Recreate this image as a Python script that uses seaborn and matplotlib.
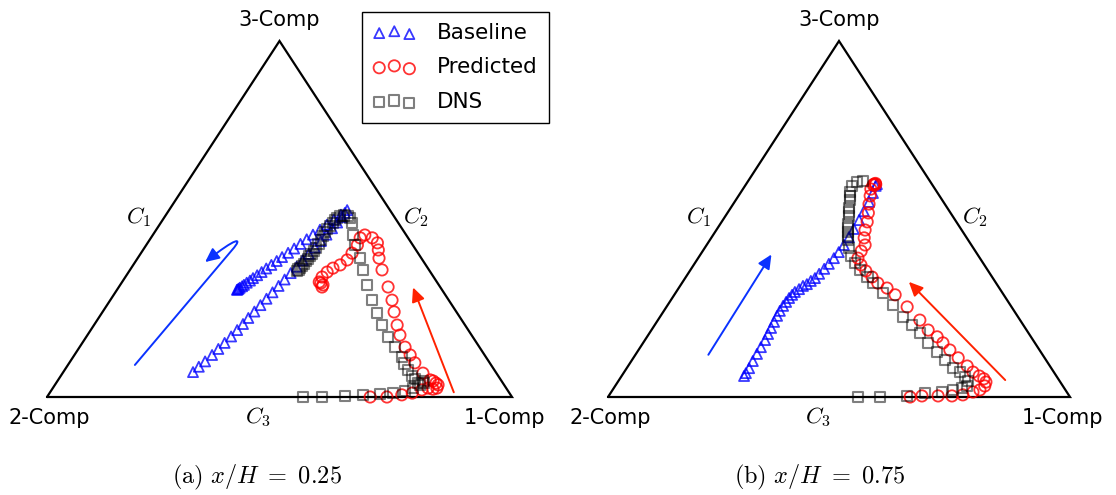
import numpy as np
import pandas as pd
import matplotlib
matplotlib.use("Agg")
import matplotlib.pyplot as plt
import seaborn as sns
from matplotlib.path import Path
from matplotlib.patches import FancyArrowPatch

# ---------------- data: compositions (fraction of 1-Comp, fraction of 3-Comp) ----------------
# panel (a) x/H = 0.25
base_a_c1 = [0.279, 0.284, 0.290, 0.296, 0.301, 0.306, 0.311, 0.315, 0.319, 0.322, 0.326, 0.330, 0.334, 0.338,
             0.342, 0.346, 0.350, 0.354, 0.358, 0.362, 0.366, 0.370, 0.373, 0.376, 0.379, 0.381, 0.382, 0.383,
             0.376, 0.368, 0.360, 0.352, 0.344, 0.337, 0.330, 0.323, 0.316, 0.309, 0.303, 0.297, 0.291, 0.286,
             0.281, 0.276, 0.273, 0.269, 0.266, 0.264, 0.261, 0.260, 0.259, 0.258]
base_a_c3 = [0.070, 0.085, 0.100, 0.118, 0.135, 0.152, 0.170, 0.188, 0.205, 0.222, 0.240, 0.258, 0.276, 0.294,
             0.312, 0.330, 0.348, 0.366, 0.384, 0.402, 0.420, 0.438, 0.456, 0.474, 0.490, 0.505, 0.517, 0.525,
             0.512, 0.498, 0.484, 0.470, 0.456, 0.443, 0.430, 0.417, 0.405, 0.393, 0.382, 0.371, 0.361, 0.351,
             0.342, 0.334, 0.327, 0.321, 0.315, 0.311, 0.307, 0.304, 0.302, 0.301]

pred_a_c1 = [0.695, 0.731, 0.760, 0.780, 0.796, 0.807, 0.819, 0.826, 0.824, 0.817, 0.808, 0.800, 0.775, 0.743,
             0.722, 0.700, 0.672, 0.652, 0.627, 0.606, 0.579, 0.542, 0.519, 0.506, 0.494, 0.476, 0.456, 0.450,
             0.454, 0.454, 0.453, 0.445, 0.434, 0.427, 0.423, 0.424, 0.437, 0.436, 0.429]
pred_a_c3 = [0.000, 0.000, 0.006, 0.011, 0.020, 0.025, 0.022, 0.025, 0.034, 0.039, 0.045, 0.048, 0.067, 0.096,
             0.118, 0.140, 0.174, 0.202, 0.239, 0.272, 0.309, 0.357, 0.390, 0.413, 0.433, 0.447, 0.455, 0.447,
             0.427, 0.404, 0.385, 0.371, 0.362, 0.351, 0.337, 0.323, 0.309, 0.315, 0.320]

dns_a_c1 = [0.551, 0.591, 0.639, 0.677, 0.712, 0.739, 0.761, 0.775, 0.785, 0.790, 0.785, 0.778, 0.766, 0.755,
            0.738, 0.722, 0.707, 0.678, 0.649, 0.619, 0.592, 0.563, 0.531, 0.501, 0.478, 0.449, 0.431, 0.412,
            0.400, 0.393, 0.384, 0.376, 0.373, 0.371, 0.370, 0.369, 0.367, 0.366, 0.367, 0.368, 0.369, 0.369,
            0.369, 0.368, 0.367, 0.367, 0.366, 0.366, 0.364, 0.363, 0.362, 0.361]
dns_a_c3 = [0.000, 0.000, 0.003, 0.006, 0.008, 0.011, 0.017, 0.025, 0.034, 0.040, 0.046, 0.039, 0.050, 0.059,
            0.076, 0.094, 0.112, 0.140, 0.169, 0.202, 0.236, 0.272, 0.315, 0.357, 0.390, 0.427, 0.455, 0.489,
            0.503, 0.508, 0.510, 0.508, 0.502, 0.497, 0.489, 0.480, 0.471, 0.463, 0.452, 0.441, 0.430, 0.419,
            0.410, 0.402, 0.395, 0.388, 0.381, 0.374, 0.368, 0.362, 0.358, 0.354]

# panel (b) x/H = 0.75
base_b_c1 = [0.265, 0.265, 0.265, 0.263, 0.262, 0.261, 0.260, 0.258, 0.256, 0.254, 0.252, 0.251, 0.251, 0.252,
             0.253, 0.255, 0.257, 0.262, 0.266, 0.272, 0.276, 0.281, 0.284, 0.288, 0.291, 0.294, 0.296, 0.297,
             0.297, 0.296, 0.295, 0.293, 0.291, 0.287, 0.283, 0.283]
base_b_c3 = [0.059, 0.067, 0.081, 0.101, 0.121, 0.140, 0.160, 0.177, 0.194, 0.211, 0.228, 0.242, 0.256, 0.267,
             0.278, 0.287, 0.295, 0.303, 0.312, 0.317, 0.326, 0.334, 0.346, 0.360, 0.374, 0.390, 0.407, 0.427,
             0.449, 0.472, 0.497, 0.522, 0.548, 0.573, 0.593, 0.598]

pred_b_c1 = [0.654, 0.678, 0.713, 0.743, 0.765, 0.783, 0.795, 0.800, 0.797, 0.788, 0.774, 0.755, 0.734, 0.703,
             0.674, 0.649, 0.628, 0.599, 0.567, 0.521, 0.478, 0.451, 0.424, 0.403, 0.381, 0.362, 0.346, 0.343,
             0.343, 0.331, 0.322, 0.315, 0.305, 0.294, 0.285, 0.277, 0.276, 0.277, 0.279, 0.281]
pred_b_c3 = [0.000, 0.003, 0.003, 0.003, 0.006, 0.014, 0.020, 0.031, 0.042, 0.051, 0.059, 0.070, 0.087, 0.110,
             0.132, 0.152, 0.169, 0.188, 0.216, 0.253, 0.287, 0.306, 0.320, 0.337, 0.354, 0.371, 0.390, 0.410,
             0.427, 0.447, 0.469, 0.492, 0.517, 0.542, 0.565, 0.584, 0.596, 0.598, 0.600, 0.597]

dns_b_c1 = [0.541, 0.589, 0.646, 0.681, 0.716, 0.737, 0.754, 0.761, 0.757, 0.745, 0.727, 0.706, 0.677, 0.649,
            0.617, 0.585, 0.557, 0.526, 0.488, 0.449, 0.414, 0.393, 0.367, 0.347, 0.328, 0.313, 0.299, 0.294,
            0.288, 0.282, 0.276, 0.268, 0.262, 0.257, 0.248, 0.242, 0.236, 0.232, 0.237, 0.248]
dns_b_c3 = [0.000, 0.000, 0.003, 0.011, 0.014, 0.020, 0.025, 0.031, 0.045, 0.056, 0.070, 0.081, 0.104, 0.126,
            0.152, 0.180, 0.202, 0.225, 0.258, 0.292, 0.320, 0.337, 0.357, 0.376, 0.396, 0.419, 0.441, 0.452,
            0.463, 0.475, 0.486, 0.508, 0.520, 0.531, 0.553, 0.565, 0.576, 0.593, 0.604, 0.607]

series_names = ["Baseline", "Predicted", "DNS"]
vertex_labels = ["1-Comp", "2-Comp", "3-Comp"]
edge_labels = [r"$C_1$", r"$C_2$", r"$C_3$"]
captions = [r"$\mathrm{(a)}\ x/H\ =\ 0.25$", r"$\mathrm{(b)}\ x/H\ =\ 0.75$"]

# ---------------- style ----------------
sns.set_style("white")
plt.rcParams["font.family"] = ["DejaVu Sans"]
plt.rcParams["mathtext.fontset"] = "cm"
plt.rcParams["text.color"] = "black"

styles = {
    "Baseline": dict(marker="^", s=52, edgecolor="#0000ff", alpha=0.78, linewidth=1.3),
    "Predicted": dict(marker="o", s=66, edgecolor="#ff0000", alpha=0.8, linewidth=1.3),
    "DNS": dict(marker="s", s=54, edgecolor="#000000", alpha=0.5, linewidth=1.5),
}


def to_frame(c1, c3, name):
    c1 = np.asarray(c1, float)
    c3 = np.asarray(c3, float)
    # barycentric -> cartesian (1-Comp at (1,0), 2-Comp at (0,0), 3-Comp at (0.5,1))
    return pd.DataFrame({"x": c1 + 0.5 * c3, "y": c3, "series": name})


W, H = 1116, 495
fig = plt.figure(figsize=(W / 100, H / 100), dpi=100)

# axes placement (pixel geometry of triangles)
ax_a = fig.add_axes([0.5 / W, (H - 468.2) / H, 558 / W, 462.8 / H])
ax_b = fig.add_axes([561.8 / W, (H - 468.2) / H, 554.4 / W, 462.8 / H])

panels = [
    (ax_a, [(base_a_c1, base_a_c3), (pred_a_c1, pred_a_c3), (dns_a_c1, dns_a_c3)]),
    (ax_b, [(base_b_c1, base_b_c3), (pred_b_c1, pred_b_c3), (dns_b_c1, dns_b_c3)]),
]

handles = []
for pi, (ax, data) in enumerate(panels):
    ax.plot([0, 1, 0.5, 0], [0, 0, 1, 0], color="k", lw=1.6, solid_joinstyle="miter", zorder=1)
    for name, (c1, c3) in zip(series_names, data):
        df = to_frame(c1, c3, name)
        st = styles[name]
        sns.scatterplot(data=df, x="x", y="y", ax=ax, marker=st["marker"], s=st["s"],
                        facecolors="none", edgecolor=st["edgecolor"], alpha=st["alpha"],
                        linewidth=st["linewidth"], label=name, legend=False, zorder=3)
        if pi == 0:
            handles.append(ax.collections[-1])
    ax.set_xlim(-0.1, 1.1)
    ax.set_ylim(-0.2, 1.1)
    ax.set_axis_off()
    # vertex labels
    ax.text(0.983, -0.058, vertex_labels[0], ha="center", va="center", fontsize=15, color="k")
    ax.text(0.004, -0.058, vertex_labels[1], ha="center", va="center", fontsize=15, color="k")
    ax.text(0.5, 1.060, vertex_labels[2], ha="center", va="center", fontsize=15, color="k")
    # edge labels
    ax.text(0.196, 0.506, edge_labels[0], ha="center", va="center", fontsize=16.5, color="k")
    ax.text(0.794, 0.506, edge_labels[1], ha="center", va="center", fontsize=16.5, color="k")
    ax.text(0.454, -0.056, edge_labels[2], ha="center", va="center", fontsize=16.5, color="k")

# trajectory direction arrows
blue_arrow = "#0a32ff"
red_arrow = "#ff2200"
head = "-|>,head_length=0.6,head_width=0.28"

verts = [(0.189, 0.090), (0.398, 0.413), (0.424, 0.452), (0.406, 0.447), (0.340, 0.379)]
codes = [Path.MOVETO, Path.LINETO, Path.CURVE4, Path.CURVE4, Path.CURVE4]
ax_a.add_patch(FancyArrowPatch(path=Path(verts, codes), arrowstyle=head, mutation_scale=14,
                               color=blue_arrow, lw=1.4, zorder=2))
ax_a.annotate("", xy=(0.785, 0.315), xytext=(0.877, 0.006),
              arrowprops=dict(arrowstyle=head, mutation_scale=14, color=red_arrow, lw=1.4))
ax_b.annotate("", xy=(0.357, 0.407), xytext=(0.214, 0.112),
              arrowprops=dict(arrowstyle=head, mutation_scale=14, color=blue_arrow, lw=1.4))
ax_b.annotate("", xy=(0.647, 0.329), xytext=(0.864, 0.042),
              arrowprops=dict(arrowstyle=head, mutation_scale=14, color=red_arrow, lw=1.4))

# captions
fig.text(257 / W, 1 - 477 / H, captions[0], ha="center", va="center", fontsize=17.5, color="k")
fig.text(820 / W, 1 - 477 / H, captions[1], ha="center", va="center", fontsize=17.5, color="k")

# legend
leg = fig.legend(handles=handles, labels=series_names, loc="upper left",
                 bbox_to_anchor=(362 / W, 1 - 12 / H), borderaxespad=0, fontsize=15.5,
                 frameon=True, fancybox=False, edgecolor="black", framealpha=1,
                 scatterpoints=3, handlelength=2.0, handletextpad=1.0,
                 labelspacing=0.68, borderpad=0.5)
leg.get_frame().set_linewidth(1.0)
for t in leg.get_texts():
    t.set_color("black")

fig.savefig("out.png", dpi=100)
